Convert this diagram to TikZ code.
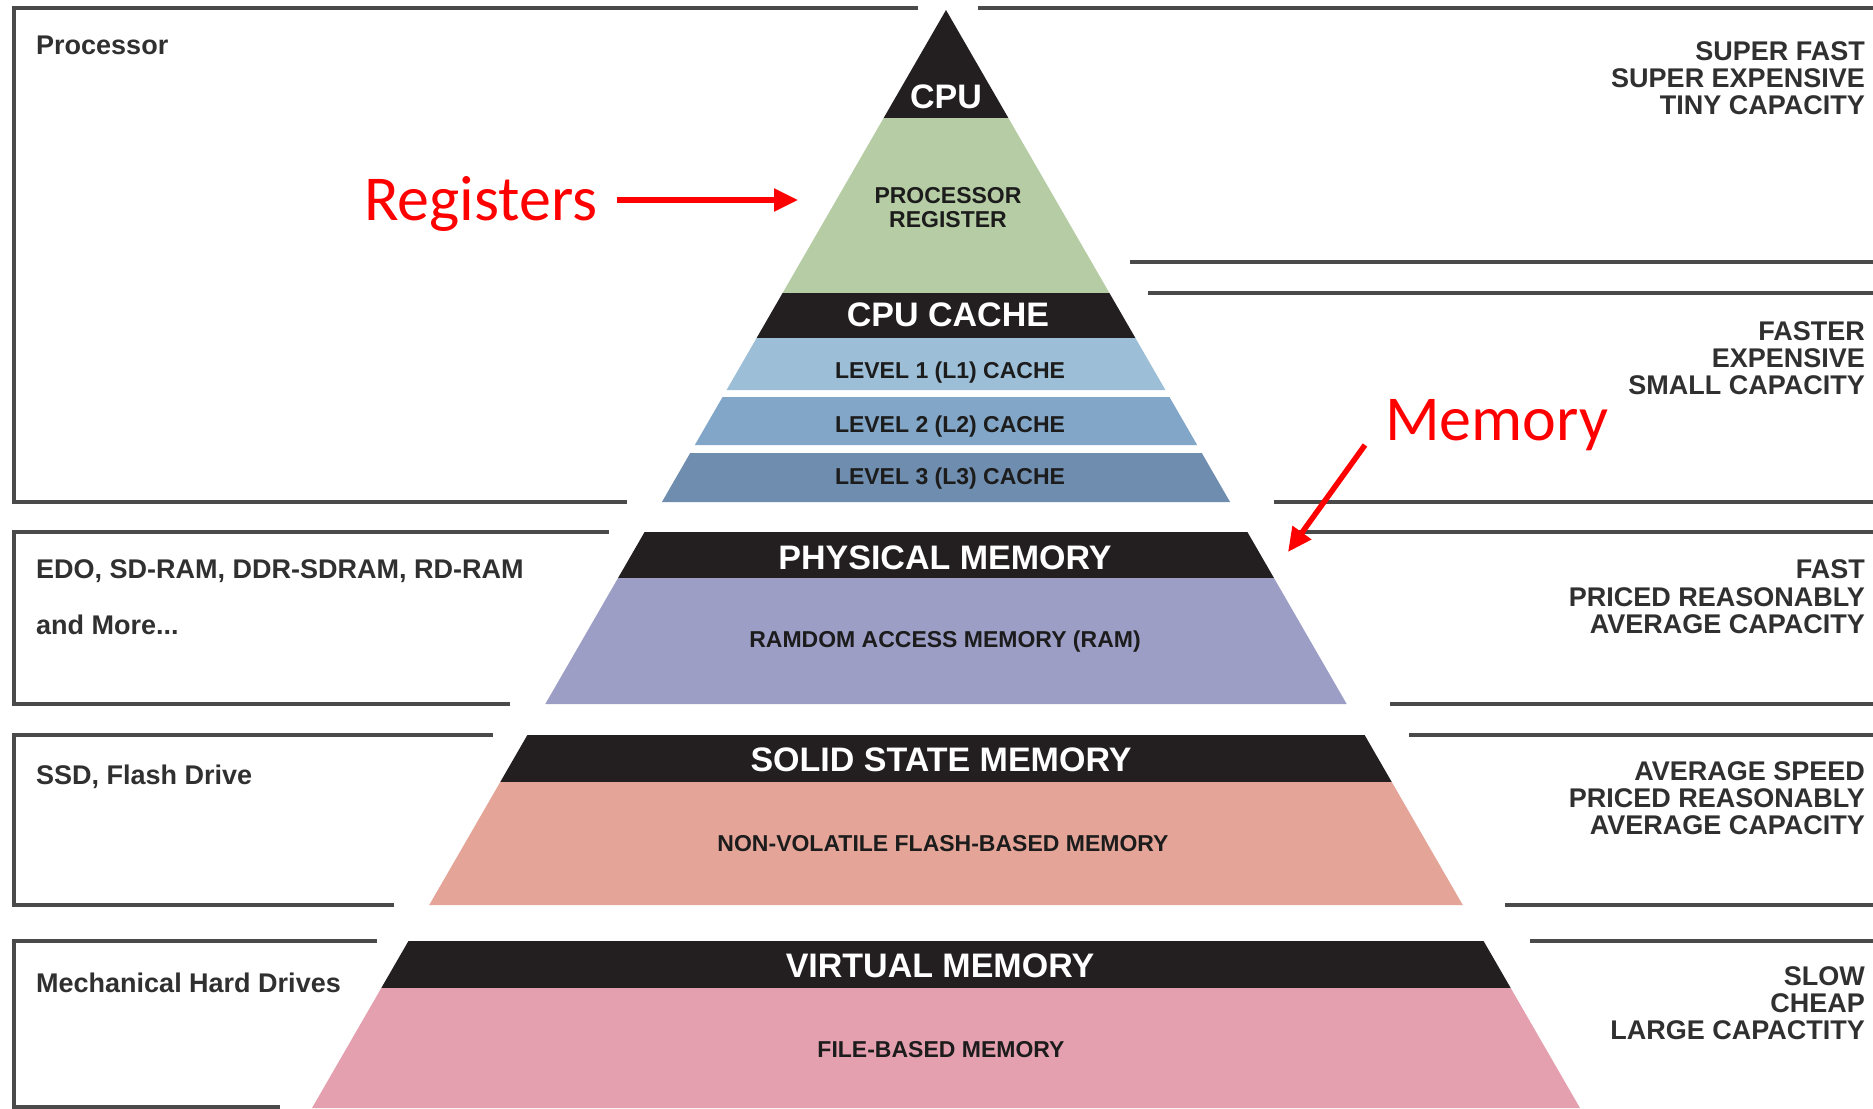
\documentclass[tikz,border=0pt]{standalone}
\usepackage{fontspec}
\setmainfont{Liberation Sans}
\newfontfamily\calibfont{Carlito}
\usetikzlibrary{arrows.meta}

\definecolor{bandblack}{HTML}{231F20}
\definecolor{reggreen}{HTML}{B5CCA4}
\definecolor{cacheA}{HTML}{9CBFD7}
\definecolor{cacheB}{HTML}{82A6C8}
\definecolor{cacheC}{HTML}{6F8DAE}
\definecolor{ramblue}{HTML}{9C9EC6}
\definecolor{ssdsalmon}{HTML}{E4A598}
\definecolor{vmpink}{HTML}{E4A0AF}
\definecolor{linegray}{HTML}{4A4A4A}
\definecolor{sidegray}{HTML}{303030}
\definecolor{innerdark}{HTML}{1C1C1C}
\definecolor{annored}{HTML}{FF0000}

% one horizontal band of the pyramid, between two heights (apex at 946,10; 60 degree sides)
\newcommand\pyrband[3]{%
  \fill[#1] ({946-0.5774*(#2-10)},#2) -- ({946+0.5774*(#2-10)},#2)
    -- ({946+0.5774*(#3-10)},#3) -- ({946-0.5774*(#3-10)},#3) -- cycle;}

\tikzset{
  boxline/.style={line width=3.5pt, draw=linegray, line cap=butt, line join=miter},
  sidetext/.style={font=\fontsize{27}{27}\selectfont\bfseries, text=sidegray, inner sep=0pt},
  headtext/.style={font=\fontsize{34}{34}\selectfont\bfseries, text=white, inner sep=0pt, anchor=base},
  innertext/.style={font=\fontsize{23}{23}\selectfont\bfseries, text=innerdark, inner sep=0pt, anchor=base},
  redtext/.style={font=\calibfont\fontsize{64}{64}\selectfont, text=annored, inner sep=0pt, anchor=base west},
  redarrow/.style={draw=annored, line width=5.5pt, -{Triangle[length=24pt,width=22pt]}},
}

\begin{document}
\begin{tikzpicture}[x=1pt,y=-1pt]
\useasboundingbox (0,0) rectangle (1873,1108);
\fill[white] (0,0) rectangle (1873,1108);

% ---- pyramid bands ----
\pyrband{bandblack}{10}{118}
\pyrband{reggreen}{118}{293}
\pyrband{bandblack}{293}{338}
\pyrband{cacheA}{338}{390}
\pyrband{cacheB}{397}{445}
\pyrband{cacheC}{453}{502}
\pyrband{bandblack}{532}{578}
\pyrband{ramblue}{578}{704}
\pyrband{bandblack}{735}{782}
\pyrband{ssdsalmon}{782}{905}
\pyrband{bandblack}{941}{988}
\pyrband{vmpink}{988}{1108}

% ---- left frames ----
\draw[boxline] (918,8) -- (14,8) -- (14,502) -- (627,502);
\draw[boxline] (609,532) -- (14,532) -- (14,704) -- (510,704);
\draw[boxline] (493,735) -- (14,735) -- (14,905) -- (394,905);
\draw[boxline] (377,941) -- (14,941) -- (14,1107) -- (280,1107);

% ---- right rules ----
\draw[boxline] (978,8) -- (1880,8);
\draw[boxline] (1130,262) -- (1880,262);
\draw[boxline] (1148,293) -- (1880,293);
\draw[boxline] (1274,502) -- (1880,502);
\draw[boxline] (1292,532) -- (1880,532);
\draw[boxline] (1390,704) -- (1880,704);
\draw[boxline] (1409,735) -- (1880,735);
\draw[boxline] (1505,905) -- (1880,905);
\draw[boxline] (1530,941) -- (1880,941);

% ---- pyramid labels ----
\node[headtext] (cpu) at (946,108) {CPU};
\node[innertext] (preg1) at (948,203) {PROCESSOR};
\node[innertext] (preg2) at (948,227) {REGISTER};
\node[headtext] (cache) at (948,326) {CPU CACHE};
\node[innertext] (l1) at (950,378) {LEVEL 1 (L1) CACHE};
\node[innertext] (l2) at (950,432) {LEVEL 2 (L2) CACHE};
\node[innertext] (l3) at (950,484) {LEVEL 3 (L3) CACHE};
\node[headtext] (phys) at (945,569) {PHYSICAL MEMORY};
\node[innertext] (ram) at (945,647) {RAMDOM ACCESS MEMORY (RAM)};
\node[headtext] (ssd) at (941,771) {SOLID STATE MEMORY};
\node[innertext] (flash) at (943,851) {NON-VOLATILE FLASH-BASED MEMORY};
\node[headtext] (virt) at (940,977) {VIRTUAL MEMORY};
\node[innertext] (file) at (941,1057) {FILE-BASED MEMORY};

% ---- left descriptions ----
\node[sidetext, anchor=base west] (proc) at (36,55) {Processor};
\node[sidetext, anchor=base west] (edo) at (36,578) {EDO, SD-RAM, DDR-SDRAM, RD-RAM};
\node[sidetext, anchor=base west] (more) at (36,634) {and More...};
\node[sidetext, anchor=base west] (flashdrv) at (36,784) {SSD, Flash Drive};
\node[sidetext, anchor=base west] (hdd) at (36,992) {Mechanical Hard Drives};

% ---- right descriptions ----
\node[sidetext, anchor=base east] (a1) at (1865,60) {SUPER FAST};
\node[sidetext, anchor=base east] (a2) at (1865,87) {SUPER EXPENSIVE};
\node[sidetext, anchor=base east] (a3) at (1865,114) {TINY CAPACITY};
\node[sidetext, anchor=base east] (b1) at (1865,340) {FASTER};
\node[sidetext, anchor=base east] (b2) at (1865,367) {EXPENSIVE};
\node[sidetext, anchor=base east] (b3) at (1865,394) {SMALL CAPACITY};
\node[sidetext, anchor=base east] (c1) at (1865,578) {FAST};
\node[sidetext, anchor=base east] (c2) at (1865,606) {PRICED REASONABLY};
\node[sidetext, anchor=base east] (c3) at (1865,633) {AVERAGE CAPACITY};
\node[sidetext, anchor=base east] (d1) at (1865,780) {AVERAGE SPEED};
\node[sidetext, anchor=base east] (d2) at (1865,807) {PRICED REASONABLY};
\node[sidetext, anchor=base east] (d3) at (1865,834) {AVERAGE CAPACITY};
\node[sidetext, anchor=base east] (e1) at (1865,985) {SLOW};
\node[sidetext, anchor=base east] (e2) at (1865,1012) {CHEAP};
\node[sidetext, anchor=base east] (e3) at (1865,1039) {LARGE CAPACTITY};

% ---- red annotations ----
\node[redtext] (regs) at (364,220) {Registers};
\node[redtext] (mem) at (1385,440) {Memory};
\coordinate (regtip) at (798,200);
\coordinate (memtip) at (1288,552);
\draw[redarrow] ([xshift=19pt]regs.east |- regtip) -- (regtip);
\draw[redarrow] ([xshift=-20pt]mem.west |- 0,445) -- (memtip);
\end{tikzpicture}
\end{document}
